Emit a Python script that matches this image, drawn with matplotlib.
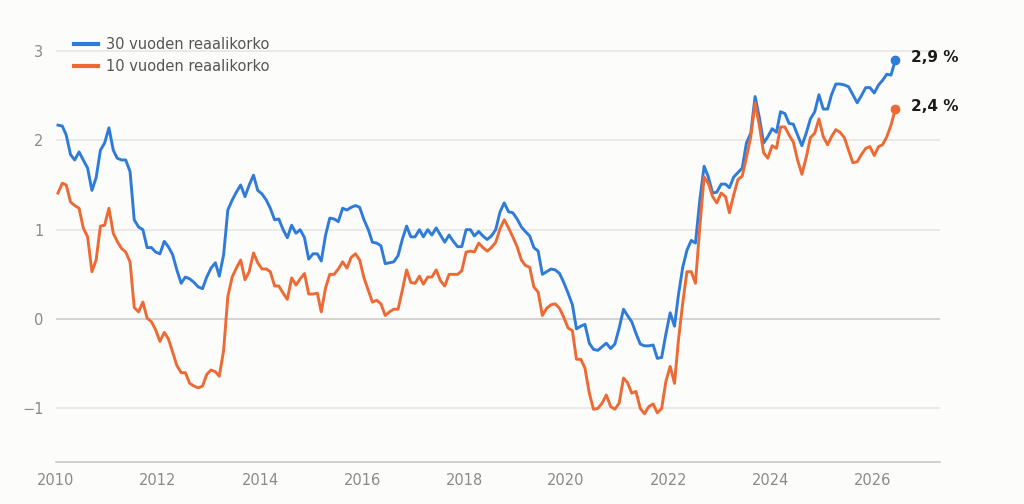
import matplotlib
matplotlib.use('Agg')
import matplotlib.pyplot as plt
import pandas as pd

# Monthly real yields (%), Jan 2010 - Jun 2026
start_month = '2010-01-01'

real_30y = [2.17, 2.16, 2.06, 1.84, 1.78, 1.87, 1.78, 1.69, 1.44, 1.58, 1.89, 1.97,
            2.14, 1.89, 1.80, 1.78, 1.78, 1.65, 1.11, 1.03, 1.00, 0.80, 0.80, 0.75,
            0.73, 0.87, 0.81, 0.72, 0.55, 0.40, 0.47, 0.45, 0.41, 0.36, 0.34, 0.47,
            0.57, 0.63, 0.48, 0.72, 1.22, 1.33, 1.42, 1.50, 1.37,
            1.50, 1.61, 1.44, 1.40, 1.33, 1.24, 1.11, 1.12, 1.00, 0.91, 1.05, 0.96,
            1.00, 0.91, 0.67, 0.73, 0.73, 0.65, 0.94, 1.13, 1.12, 1.09, 1.24, 1.22,
            1.25, 1.27, 1.25, 1.11, 1.00, 0.86, 0.85, 0.82, 0.62, 0.63, 0.64, 0.71,
            0.89, 1.04, 0.92, 0.92, 1.00, 0.92, 1.00, 0.94, 1.02, 0.94, 0.86, 0.94,
            0.87, 0.81, 0.81, 1.00, 1.00, 0.93, 0.98,
            0.93, 0.89, 0.93, 1.00, 1.20, 1.30, 1.20, 1.19, 1.12, 1.03, 0.98, 0.93,
            0.80, 0.76, 0.50, 0.53, 0.56, 0.55, 0.51, 0.41, 0.29, 0.16, -0.11, -0.08,
            -0.06, -0.27, -0.34, -0.35, -0.31, -0.27, -0.33, -0.28, -0.10, 0.11, 0.04,
            -0.03, -0.16, -0.28, -0.30, -0.30, -0.29, -0.44, -0.43, -0.17, 0.07, -0.08,
            0.27,
            0.58, 0.77, 0.88, 0.85, 1.33, 1.71, 1.59, 1.41, 1.42, 1.51, 1.51, 1.47,
            1.59, 1.64, 1.69, 1.97, 2.08, 2.49, 2.26, 1.97, 2.04, 2.13, 2.09, 2.32,
            2.30, 2.19, 2.18, 2.06, 1.94, 2.08, 2.24, 2.32, 2.51, 2.35, 2.35, 2.51,
            2.63, 2.63, 2.62, 2.60, 2.51, 2.42, 2.50, 2.59, 2.59, 2.53, 2.62, 2.67,
            2.74, 2.73, 2.90]

real_10y = [1.41, 1.52, 1.50, 1.31, 1.27, 1.24, 1.02, 0.92, 0.53, 0.66, 1.04, 1.05,
            1.24, 0.96, 0.87, 0.79, 0.75, 0.64, 0.13, 0.08, 0.19, 0.01, -0.03, -0.12,
            -0.25, -0.15, -0.22, -0.37, -0.52, -0.60, -0.60, -0.72, -0.75, -0.77, -0.75,
            -0.62, -0.57, -0.59, -0.64, -0.35, 0.25, 0.47, 0.57, 0.66, 0.44,
            0.53, 0.74, 0.63, 0.56, 0.56, 0.53, 0.37, 0.37, 0.29, 0.22, 0.46, 0.38,
            0.45, 0.51, 0.28, 0.28, 0.29, 0.08, 0.35, 0.50, 0.50, 0.56, 0.64, 0.57,
            0.69, 0.73, 0.66, 0.46, 0.32, 0.19, 0.21, 0.17, 0.04, 0.08, 0.11, 0.11,
            0.32, 0.55, 0.41, 0.40, 0.48, 0.39, 0.47, 0.47, 0.55, 0.43, 0.37, 0.50,
            0.50, 0.50, 0.54, 0.75, 0.76, 0.75, 0.85,
            0.80, 0.76, 0.80, 0.86, 1.01, 1.11, 1.02, 0.92, 0.81, 0.66, 0.60, 0.58,
            0.36, 0.30, 0.04, 0.12, 0.16, 0.17, 0.12, 0.02, -0.10, -0.13, -0.45, -0.45,
            -0.55, -0.83, -1.01, -1.00, -0.94, -0.85, -0.98, -1.01, -0.94, -0.66, -0.71,
            -0.83, -0.81, -1.00, -1.06, -0.98, -0.95, -1.05, -1.00, -0.70, -0.53, -0.72,
            -0.24,
            0.18, 0.53, 0.53, 0.40, 1.03, 1.59, 1.52, 1.37, 1.30, 1.41, 1.37, 1.19,
            1.39, 1.56, 1.60, 1.81, 2.04, 2.42, 2.17, 1.86, 1.80, 1.94, 1.91, 2.15,
            2.15, 2.06, 1.98, 1.78, 1.62, 1.81, 2.03, 2.08, 2.24, 2.04, 1.95, 2.04,
            2.12, 2.09, 2.03, 1.89, 1.75, 1.76, 1.84, 1.91, 1.93, 1.83, 1.93, 1.95,
            2.04, 2.17, 2.35]

series_names = ['30 vuoden reaalikorko', '10 vuoden reaalikorko']
end_labels = ['2,9 %', '2,4 %']
y_ticks = [-1, 0, 1, 2, 3]
x_tick_years = list(range(2010, 2027, 2))

BLUE = '#2f7bd9'
ORANGE = '#ee6a35'
BG = '#fcfcfb'

dates = pd.date_range(start_month, periods=len(real_30y), freq='MS') + pd.Timedelta(days=14)

fig = plt.figure(figsize=(10.24, 5.04), dpi=100, facecolor=BG)
ax = fig.add_axes([0.0547, 0.0833, 0.8633, 0.8333], facecolor=BG)

ax.plot(dates, real_30y, color=BLUE, lw=2.1, label=series_names[0], zorder=3,
        solid_joinstyle='round')
ax.plot(dates, real_10y, color=ORANGE, lw=2.1, label=series_names[1], zorder=3,
        solid_joinstyle='round')

# end dots and value labels
for vals, col, lab in [(real_30y, BLUE, end_labels[0]), (real_10y, ORANGE, end_labels[1])]:
    ax.plot(dates[-1], vals[-1], 'o', color=col, ms=6, zorder=4)
    ax.annotate(lab, (dates[-1], vals[-1]), xytext=(11, 2), textcoords='offset points',
                va='center', ha='left', fontsize=11, fontweight='bold', color='#1a1a1a',
                annotation_clip=False)

ax.set_ylim(-1.6, 3.1)
ax.set_xlim(pd.Timestamp('2010-01-01'), pd.Timestamp('2027-05-01'))

ax.set_yticks(y_ticks)
ax.set_yticklabels(['\u22121' if t < 0 else str(t) for t in y_ticks])
ax.set_xticks([pd.Timestamp(f'{y}-01-01') for y in x_tick_years])
ax.set_xticklabels([str(y) for y in x_tick_years])

for t in y_ticks:
    ax.axhline(t, color='#c9c9c6' if t == 0 else '#e4e4e1', lw=1.1, zorder=1)

for s in ['top', 'right', 'left']:
    ax.spines[s].set_visible(False)
ax.spines['bottom'].set_color('#c9c9c6')
ax.spines['bottom'].set_linewidth(1.2)

ax.tick_params(axis='both', length=0, labelsize=10.5, labelcolor='#8a8a8a')
ax.tick_params(axis='y', pad=9)
ax.tick_params(axis='x', pad=8)

leg = ax.legend(loc='upper left', bbox_to_anchor=(0.006, 1.043), frameon=False,
                fontsize=10.5, handlelength=1.6, handletextpad=0.55, labelspacing=0.45,
                borderaxespad=0.0, borderpad=0.9)
for txt in leg.get_texts():
    txt.set_color('#555555')
for line in leg.get_lines():
    line.set_linewidth(3)

fig.savefig('out.png', dpi=100, facecolor=BG)
